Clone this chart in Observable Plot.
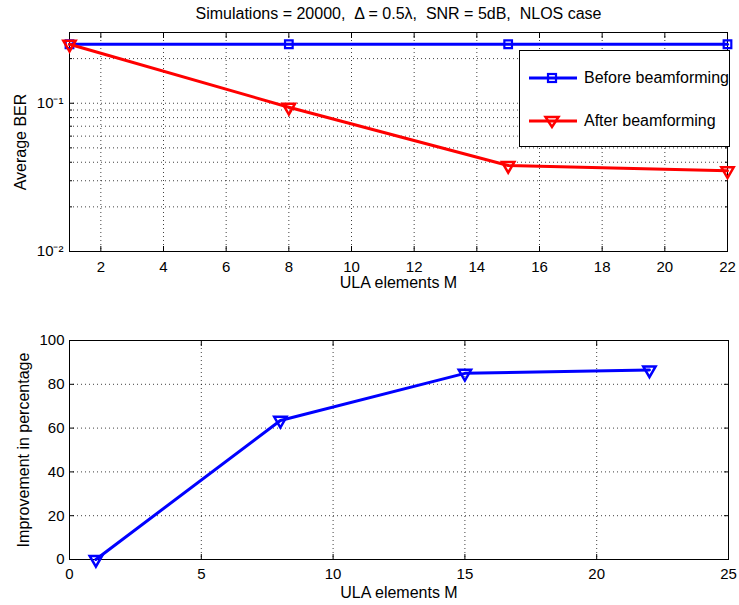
<!DOCTYPE html>
<html>
<head>
<meta charset="utf-8">
<script src="https://cdn.jsdelivr.net/npm/d3@7"></script>
<script src="https://cdn.jsdelivr.net/npm/@observablehq/plot@0.6"></script>
<style>
  body { margin: 0; background: white; font-family: "Liberation Sans", Arial, sans-serif; }
  #wrap { position: relative; width: 739px; height: 605px; background: white; }
  #top, #bottom { position: absolute; left: 0; }
  #top { top: 0; }
  #bottom { top: 300px; }
  #legend { position: absolute; left: 519px; top: 50px; width: 209px; height: 95px;
    border: 1px solid black; background: white; font-size: 16px; color: black; }
  .entry { position: absolute; left: 8px; height: 20px; display: flex; align-items: center; white-space: nowrap; }
  .entry svg { margin-right: 6px; }
</style>
</head>
<body>
<div id="wrap">
  <div id="top"></div>
  <div id="bottom"></div>
  <div id="legend"></div>
</div>
<script>
// ---- data ----
const M = [1, 8, 15, 22];
const berBefore = [0.25, 0.25, 0.25, 0.25];
const berAfter = [0.25, 0.094, 0.038, 0.035];
const improvement = [0, 63.5, 85, 86.5];

const titleText = "Simulations = 20000,  \u0394 = 0.5\u03bb,  SNR = 5dB,  NLOS case";
const seriesNames = ["Before beamforming", "After beamforming"];
const xLabel = "ULA elements M";
const topYLabel = "Average BER";
const bottomYLabel = "Improvement in percentage";

const topXTicks = [2, 4, 6, 8, 10, 12, 14, 16, 18, 20, 22];
const topYTicks = [0.01, 0.1];
const topYTickLabels = ["10\u207b\u00b2", "10\u207b\u00b9"];
const topYMinor = [0.02, 0.03, 0.04, 0.05, 0.06, 0.07, 0.08, 0.09, 0.2, 0.3];
const bottomXTicks = [0, 5, 10, 15, 20, 25];
const bottomYTicks = [0, 20, 40, 60, 80, 100];

const blue = "#0000ff", red = "#ff0000";
const font = "'Liberation Sans', Arial, sans-serif";
const none = () => "";

const before = M.map((m, i) => ({m, v: berBefore[i]}));
const after = M.map((m, i) => ({m, v: berAfter[i]}));
const impr = M.map((m, i) => ({m, v: improvement[i]}));

const grid = {stroke: "black", strokeOpacity: 0.75, strokeDasharray: "1,3", strokeWidth: 1};

const topPlot = Plot.plot({
  width: 739, height: 300,
  marginLeft: 69, marginRight: 12, marginTop: 32, marginBottom: 49,
  style: {fontFamily: font, fontSize: "15px", color: "black", background: "white"},
  x: {domain: [1, 22]},
  y: {type: "log", domain: [0.01, 0.3]},
  marks: [
    Plot.gridX(topXTicks, grid),
    Plot.gridY([...topYMinor, 0.1], grid),
    Plot.axisX(topXTicks, {anchor: "bottom", tickSize: -5, tickPadding: 15, label: null}),
    Plot.axisX(topXTicks, {anchor: "top", tickSize: -5, tickFormat: none, label: null}),
    Plot.axisY(topYTicks, {anchor: "left", tickSize: -5, tickPadding: 11, label: null,
      tickFormat: (d) => topYTickLabels[topYTicks.indexOf(d)]}),
    Plot.axisY(topYTicks, {anchor: "right", tickSize: -5, tickFormat: none, label: null}),
    Plot.axisY(topYMinor, {anchor: "left", tickSize: -3, tickFormat: none, label: null}),
    Plot.axisY(topYMinor, {anchor: "right", tickSize: -3, tickFormat: none, label: null}),
    Plot.frame({stroke: "black", strokeWidth: 1}),
    Plot.line(before, {x: "m", y: "v", stroke: blue, strokeWidth: 3}),
    Plot.dot(before, {x: "m", y: "v", symbol: "square", r: 4.3, stroke: blue, strokeWidth: 2.2, fill: "none"}),
    Plot.line(after, {x: "m", y: "v", stroke: red, strokeWidth: 3}),
    Plot.dot(after, {x: "m", y: "v", symbol: "triangle", rotate: 180, r: 4.6, stroke: red, strokeWidth: 2.5, fill: "none"}),
    Plot.text([titleText], {frameAnchor: "top", dy: -19, lineAnchor: "middle", fontSize: 16}),
    Plot.text([xLabel], {frameAnchor: "bottom", dy: 31, lineAnchor: "middle", fontSize: 16}),
    Plot.text([topYLabel], {frameAnchor: "left", dx: -49, rotate: -90, textAnchor: "middle", lineAnchor: "middle", fontSize: 16})
  ]
});
document.getElementById("top").appendChild(topPlot);

const bottomPlot = Plot.plot({
  width: 739, height: 305,
  marginLeft: 69, marginRight: 11, marginTop: 40, marginBottom: 46,
  style: {fontFamily: font, fontSize: "15px", color: "black", background: "white"},
  x: {domain: [0, 25]},
  y: {domain: [0, 100]},
  marks: [
    Plot.gridX(bottomXTicks.slice(1, -1), grid),
    Plot.gridY(bottomYTicks.slice(1, -1), grid),
    Plot.axisX(bottomXTicks, {anchor: "bottom", tickSize: -5, tickPadding: 14, label: null}),
    Plot.axisX(bottomXTicks, {anchor: "top", tickSize: -5, tickFormat: none, label: null}),
    Plot.axisY(bottomYTicks, {anchor: "left", tickSize: -5, tickPadding: 10, label: null}),
    Plot.axisY(bottomYTicks, {anchor: "right", tickSize: -5, tickFormat: none, label: null}),
    Plot.frame({stroke: "black", strokeWidth: 1}),
    Plot.line(impr, {x: "m", y: "v", stroke: blue, strokeWidth: 3}),
    Plot.dot(impr, {x: "m", y: "v", symbol: "triangle", rotate: 180, r: 4.6, stroke: blue, strokeWidth: 2.5, fill: "none"}),
    Plot.text([xLabel], {frameAnchor: "bottom", dy: 33, lineAnchor: "middle", fontSize: 16}),
    Plot.text([bottomYLabel], {frameAnchor: "left", dx: -46, rotate: -90, textAnchor: "middle", lineAnchor: "middle", fontSize: 16})
  ]
});
document.getElementById("bottom").appendChild(bottomPlot);

// ---- legend ----
const legend = document.getElementById("legend");
const sq = `<rect x="20" y="6" width="8" height="8" fill="none" stroke="${blue}" stroke-width="2.2"/>`;
const tri = `<path d="M17.5,6 L30.5,6 L24,16 Z" fill="none" stroke="${red}" stroke-width="2.5" stroke-linejoin="miter"/>`;
[[seriesNames[0], blue, sq, 17], [seriesNames[1], red, tri, 60]].forEach(([name, col, sym, top]) => {
  const e = document.createElement("div");
  e.className = "entry";
  e.style.top = top + "px";
  e.innerHTML = `<svg width="50" height="20"><line x1="1" x2="49" y1="10" y2="10" stroke="${col}" stroke-width="3"/>${sym}</svg><span>${name}</span>`;
  legend.appendChild(e);
});
</script>
</body>
</html>
